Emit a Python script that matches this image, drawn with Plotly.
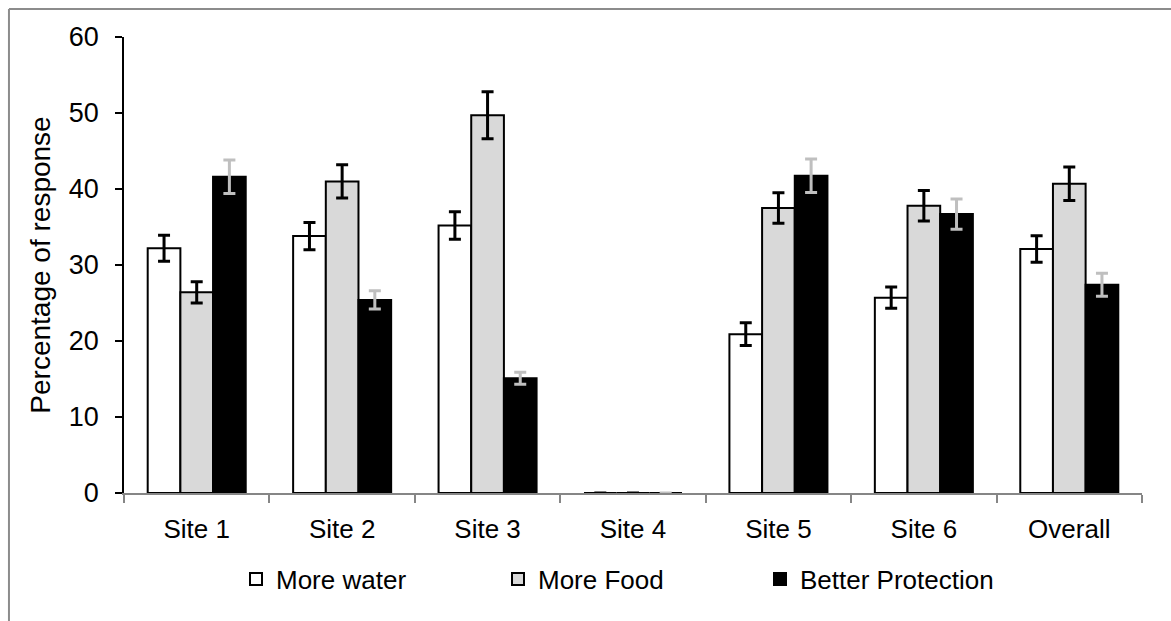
import plotly.graph_objects as go

# Survey results: share of respondents asking for each improvement, by site
sites = ["Site 1", "Site 2", "Site 3", "Site 4", "Site 5", "Site 6", "Overall"]

more_water = [32.2, 33.8, 35.2, 0.0, 20.9, 25.7, 32.1]
more_water_err = [1.7, 1.8, 1.8, 0.0, 1.5, 1.4, 1.75]

more_food = [26.4, 41.0, 49.7, 0.0, 37.5, 37.8, 40.7]
more_food_err = [1.4, 2.2, 3.1, 0.0, 2.0, 2.0, 2.2]

better_protection = [41.6, 25.4, 15.1, 0.0, 41.75, 36.7, 27.4]
better_protection_err = [2.2, 1.2, 0.8, 0.0, 2.2, 2.0, 1.5]

FONT = "Liberation Sans, Arial, sans-serif"

series = [
    ("More water", more_water, more_water_err, "#ffffff", "#000000"),
    ("More Food", more_food, more_food_err, "#d9d9d9", "#000000"),
    ("Better Protection", better_protection, better_protection_err, "#000000", "#bfbfbf"),
]

fig = go.Figure()
for name, vals, errs, fill, err_col in series:
    fig.add_trace(go.Bar(
        name=name,
        x=sites,
        y=vals,
        marker=dict(color=fill, line=dict(color="#000000", width=2)),
        error_y=dict(type="data", array=errs, visible=True,
                     color=err_col, thickness=3, width=6),
    ))

# outer frame lines (top and left edges of the chart area)
frame = dict(type="line", xref="paper", yref="paper",
             line=dict(color="#8c8c8c", width=2))
fig.add_shape(**frame, x0=-0.113, x1=1.03, y0=1.0614, y1=1.0614)
fig.add_shape(**frame, x0=-0.113, x1=-0.113, y0=1.0614, y1=-0.29)

fig.update_layout(
    width=1171,
    height=621,
    margin=dict(l=124, r=29, t=37, b=128),
    paper_bgcolor="#ffffff",
    plot_bgcolor="#ffffff",
    barmode="group",
    bargap=0.326,
    bargroupgap=0,
    font=dict(family=FONT, size=26, color="#000000"),
    showlegend=True,
    legend=dict(
        orientation="h",
        xref="container", yref="container",
        x=236 / 1171, xanchor="left",
        y=1 - 579 / 621, yanchor="middle",
        entrywidth=217, entrywidthmode="pixels",
        itemwidth=30,
        font=dict(family=FONT, size=26, color="#000000"),
        bgcolor="rgba(0,0,0,0)",
        traceorder="normal",
    ),
    xaxis=dict(
        type="category",
        showline=True, linecolor="#868686", linewidth=2,
        ticks="outside", tickson="boundaries", ticklen=8,
        tickcolor="#868686", tickwidth=1.5,
        showgrid=False, zeroline=False,
        tickfont=dict(family=FONT, size=26, color="#000000"),
        ticklabelstandoff=12,
    ),
    yaxis=dict(
        range=[0, 60],
        tickvals=[0, 10, 20, 30, 40, 50, 60],
        showline=True, linecolor="#000000", linewidth=1.5,
        ticks="outside", ticklen=7, tickcolor="#000000", tickwidth=1.5,
        showgrid=False, zeroline=False,
        tickfont=dict(family=FONT, size=27, color="#000000"),
        ticklabelstandoff=11,
        title=dict(text="Percentage of response",
                   font=dict(family=FONT, size=28, color="#000000"),
                   standoff=10),
    ),
)

fig.write_html("out.html")
